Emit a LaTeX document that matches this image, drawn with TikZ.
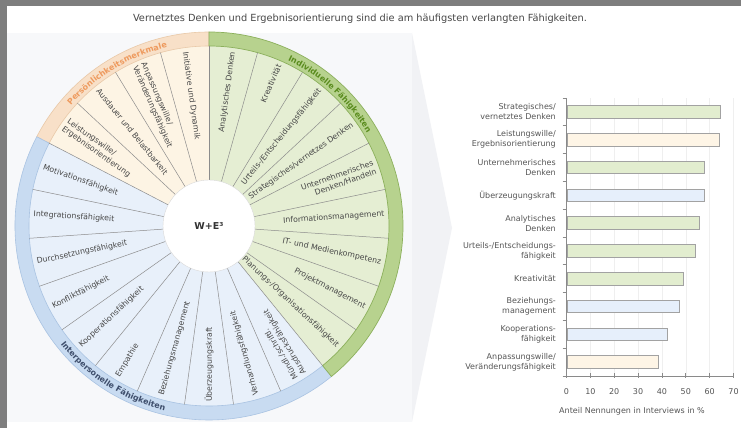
\documentclass[tikz,border=0pt]{standalone}
\usepackage{fontspec}
\setmainfont{DejaVu Sans}
\usetikzlibrary{calc,decorations.text}
\definecolor{frame}{HTML}{7E7E7E}
\definecolor{panel}{HTML}{F7F8FA}
\definecolor{chev}{HTML}{F1F2F5}
\definecolor{ofill}{HTML}{FDF4E4}
\definecolor{oband}{HTML}{F8E0C8}
\definecolor{oline}{HTML}{E9C9A8}
\definecolor{otext}{HTML}{EE9A5E}
\definecolor{gfill}{HTML}{E5EED3}
\definecolor{gband}{HTML}{B7D28E}
\definecolor{gline}{HTML}{8CB05C}
\definecolor{gtext}{HTML}{5A8C1E}
\definecolor{bfill}{HTML}{E8F0FA}
\definecolor{bband}{HTML}{C8DBF1}
\definecolor{bline}{HTML}{A9C3E2}
\definecolor{btext}{HTML}{3E4E6C}
\definecolor{sep}{HTML}{8C8C8C}
\definecolor{txt}{HTML}{474747}
\definecolor{ctxt}{HTML}{555555}
\definecolor{axiscol}{HTML}{8A8A8A}
\definecolor{gridcol}{HTML}{EFEFEF}
\definecolor{barline}{HTML}{A2A2A2}
\definecolor{cgreen}{HTML}{E2EDCF}
\definecolor{corange}{HTML}{FEF5E6}
\definecolor{cblue}{HTML}{E6EFFB}
\begin{document}
\begin{tikzpicture}[x=1pt,y=1pt,
  wtxt/.style={font=\fontsize{7.8}{9.2}\selectfont, text=txt, inner sep=0pt},
  inw/.style={wtxt, anchor=west, align=left},
  outw/.style={wtxt, anchor=east, align=right},
  clab/.style={font=\fontsize{8}{10}\selectfont, text=ctxt, anchor=east, align=right, inner sep=0pt},
  tlab/.style={font=\fontsize{8}{10}\selectfont, text=ctxt, inner sep=0pt},
  barbox/.style={draw=barline, line width=0.8pt},
  sepline/.style={draw=sep, line width=0.5pt}]
\useasboundingbox (0,0) rectangle (741,428);
\fill[white] (0,0) rectangle (741,428);
% panel and chevron
\fill[panel] (7,6) rectangle (412,395);
\fill[chev] (412,395) -- (452,200) -- (412,6) -- cycle;
% frame
\fill[frame] (0,0) rectangle (7,428);
\fill[frame] (0,422) rectangle (741,428);
% title
\node[font=\fontsize{9.8}{12}\selectfont, text=txt] (title) at (360,409)
  {Vernetztes Denken und Ergebnisorientierung sind die am häufigsten verlangten Fähigkeiten.};
% ---------------- wheel ----------------
\coordinate (C) at (209,202);
\def\s{15.652174}
% sectors
\fill[ofill] (C) -- ($(C)+(90:180)$) arc[start angle=90,end angle=152.609,radius=180] -- cycle;
\fill[bfill] (C) -- ($(C)+(152.609:180)$) arc[start angle=152.609,end angle=309.130,radius=180] -- cycle;
\fill[gfill] (C) -- ($(C)+(-50.870:180)$) arc[start angle=-50.870,end angle=90,radius=180] -- cycle;
% bands
\filldraw[fill=oband, draw=oline, line width=0.6pt] ($(C)+(90:194)$) arc[start angle=90,end angle=152.609,radius=194]
  -- ($(C)+(152.609:180)$) arc[start angle=152.609,end angle=90,radius=180] -- cycle;
\filldraw[fill=bband, draw=bline, line width=0.6pt] ($(C)+(152.609:194)$) arc[start angle=152.609,end angle=309.130,radius=194]
  -- ($(C)+(309.130:180)$) arc[start angle=309.130,end angle=152.609,radius=180] -- cycle;
\filldraw[fill=gband, draw=gline, line width=0.7pt] ($(C)+(-50.870:194)$) arc[start angle=-50.870,end angle=90,radius=194]
  -- ($(C)+(90:180)$) arc[start angle=90,end angle=-50.870,radius=180] -- cycle;
% separators
\foreach \k in {0,...,22}
  \draw[sepline] ($(C)+({90+\k*\s}:46)$) -- ($(C)+({90+\k*\s}:180)$);
% hub
\node[circle, fill=white, draw=gray!30, line width=0.4pt, minimum size=92pt, inner sep=0pt,
  font=\fontsize{9.5}{11}\selectfont\bfseries, text=black!80] (hub) at (C) {W+E³};
% band labels
\path[decorate, decoration={text along path, text align=center,
  text={|\fontsize{8}{9}\selectfont\bfseries\color{otext}|Persönlichkeitsmerkmale}}]
  ($(C)+(150:183.3)$) arc[start angle=150, end angle=92, radius=183.3];
\path[decorate, decoration={text along path, text align=center,
  text={|\fontsize{8}{9}\selectfont\bfseries\color{gtext}|Individuelle Fähigkeiten}}]
  ($(C)+(80:183.3)$) arc[start angle=80, end angle=15, radius=183.3];
\path[decorate, decoration={text along path, text align=center,
  text={|\fontsize{8}{9}\selectfont\bfseries\color{btext}|Interpersonelle Fähigkeiten}}]
  ($(C)+(200:189.8)$) arc[start angle=200, end angle=275, radius=189.8];
% orange texts (reading inward)
\node[inw, rotate=-82.17] (o1) at ($(C)+(97.826:176)$) {Initiative und Dynamik};
\node[inw, rotate=-66.52] (o2) at ($(C)+(113.478:176)$) {Anpassungswille/\\Veränderungsfähigkeit};
\node[inw, rotate=-50.87] (o3) at ($(C)+(129.130:176)$) {Ausdauer und Belastbarkeit};
\node[inw, rotate=-35.22] (o4) at ($(C)+(144.783:176)$) {Leistungswille/\\Ergebnisorientierung};
% blue texts (reading inward)
\node[inw, rotate=-19.57] (b1) at ($(C)+(160.435:176)$) {Motivationsfähigkeit};
\node[inw, rotate=-3.91] (b2) at ($(C)+(176.087:176)$) {Integrationsfähigkeit};
\node[inw, rotate=11.74] (b3) at ($(C)+(191.739:176)$) {Durchsetzungsfähigkeit};
\node[inw, rotate=27.39] (b4) at ($(C)+(207.391:176)$) {Konfliktfähigkeit};
\node[inw, rotate=43.04] (b5) at ($(C)+(223.043:176)$) {Kooperationsfähigkeit};
\node[inw, rotate=58.70] (b6) at ($(C)+(238.696:176)$) {Empathie};
\node[inw, rotate=74.35] (b7) at ($(C)+(254.348:176)$) {Beziehungsmanagement};
\node[inw, rotate=90] (b8) at ($(C)+(270:176)$) {Überzeugungskraft};
\node[inw, rotate=105.65] (b9) at ($(C)+(285.652:176)$) {Verhandlungsfähigkeit};
\node[inw, rotate=121.30] (b10) at ($(C)+(301.304:176)$) {Mündl./schriftl.\\Ausdrucksfähigkeit};
% green texts (reading outward)
\node[outw, rotate=-43.04] (g1) at ($(C)+(-43.043:176)$) {Planungs-/Organisationsfähigkeit};
\node[outw, rotate=-27.39] (g2) at ($(C)+(-27.391:176)$) {Projektmanagement};
\node[outw, rotate=-11.74] (g3) at ($(C)+(-11.739:176)$) {IT- und Medienkompetenz};
\node[outw, rotate=3.91] (g4) at ($(C)+(3.913:176)$) {Informationsmanagement};
\node[outw, rotate=19.57] (g5) at ($(C)+(19.565:176)$) {Unternehmerisches\\Denken/Handeln};
\node[outw, rotate=35.22] (g6) at ($(C)+(35.217:176)$) {Strategisches/vernetzes Denken};
\node[outw, rotate=50.87] (g7) at ($(C)+(50.870:176)$) {Urteils-/Entscheidungsfähigkeit};
\node[outw, rotate=66.52] (g8) at ($(C)+(66.522:176)$) {Kreativität};
\node[outw, rotate=82.17] (g9) at ($(C)+(82.174:176)$) {Analytisches Denken};
% ---------------- chart ----------------
\foreach \t in {10,20,...,70}
  \draw[gridcol, line width=0.5pt] ({566.5+2.386*\t},52) -- ({566.5+2.386*\t},330);
\foreach \v/\c/\i in {64.6/cgreen/1, 64.0/corange/2, 57.6/cgreen/3, 57.6/cblue/4, 55.5/cgreen/5,
                      54.2/cgreen/6, 48.9/cgreen/7, 47.3/cblue/8, 42.2/cblue/9, 38.4/corange/10}
  \draw[barbox, fill=\c] (567,{343.9-27.8*\i-6.3}) rectangle ({566.5+2.386*\v},{343.9-27.8*\i+6.3});
\draw[axiscol, line width=0.7pt] (566.5,330) -- (566.5,52) -- (733.5,52);
\foreach \j in {0,...,10}
  \draw[axiscol, line width=0.7pt] (562.5,{330-27.8*\j}) -- (566.5,{330-27.8*\j});
\foreach \t in {0,10,...,70} {
  \draw[axiscol, line width=0.7pt] ({566.5+2.386*\t},50) -- ({566.5+2.386*\t},55);
  \node[tlab] (t\t) at ({566.5+2.386*\t},36) {\t};
}
\node[tlab] (xtitle) at (632,17) {Anteil Nennungen in Interviews in \%};
\node[clab] (l1) at (556,316.1) {Strategisches/\\vernetztes Denken};
\node[clab] (l2) at (556,288.3) {Leistungswille/\\Ergebnisorientierung};
\node[clab] (l3) at (556,260.5) {Unternehmerisches\\Denken};
\node[clab] (l4) at (556,232.7) {Überzeugungskraft};
\node[clab] (l5) at (556,204.9) {Analytisches\\Denken};
\node[clab] (l6) at (556,177.1) {Urteils-/Entscheidungs-\\fähigkeit};
\node[clab] (l7) at (556,149.3) {Kreativität};
\node[clab] (l8) at (556,121.5) {Beziehungs-\\management};
\node[clab] (l9) at (556,93.7) {Kooperations-\\fähigkeit};
\node[clab] (l10) at (556,65.9) {Anpassungswille/\\Veränderungsfähigkeit};
\end{tikzpicture}
\end{document}
